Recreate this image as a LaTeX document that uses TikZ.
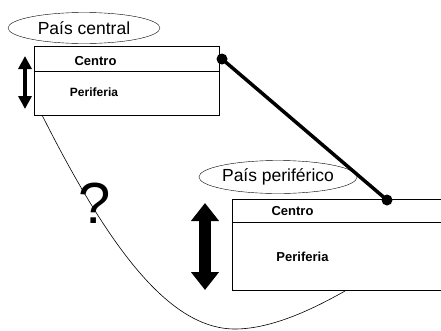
\documentclass[tikz,border=0pt]{standalone}
\usepackage{fontspec}
\setmainfont{Liberation Sans}
\usetikzlibrary{shapes.geometric,arrows.meta}

\begin{document}
\begin{tikzpicture}[x=1pt,y=-1pt,
	pais/.style={draw,ellipse,inner sep=0pt,font=\fontsize{17.5}{20}\selectfont},
	caja/.style={draw,line width=0.7pt,inner sep=0pt},
	rotulo/.style={inner sep=0pt,font=\bfseries\fontsize{#1}{14}\selectfont},
	rotulo/.default=12]
	\useasboundingbox (0,0) rectangle (441,330);

	\draw[line width=0.6pt] (42,115) .. controls (110,250) and (170,329) .. (235,329) .. controls (275,329) and (320,305) .. (345,291);
	\node[inner sep=0pt,font=\fontsize{58}{60}\selectfont] (duda) at (95,203) {?};

	\node[caja,fill=white,minimum width=185pt,minimum height=69pt] (central) at (126.5,80.5) {};
	\draw[line width=0.7pt] (central.west |- 0,71) -- (central.east |- 0,71);
	\node[rotulo=13] (centro1) at (95.5,61) {Centro};
	\node[rotulo] (periferia1) at (94,92) {Periferia};
	\node[pais,minimum width=152pt,minimum height=31pt] (paiscentral) at (84,28) {País central};

	\node[caja,fill=white,minimum width=210pt,minimum height=91pt] (periferico) at (337,244.5) {};
	\draw[line width=0.7pt] (periferico.west |- 0,222) -- (periferico.east |- 0,222);
	\node[rotulo=13] (centro2) at (292.5,211) {Centro};
	\node[rotulo=13] (periferia2) at (302.5,257) {Periferia};
	\node[pais,minimum width=147pt,minimum height=33pt] (paisperiferico) at (278,177) {País periférico};

	\draw[line width=4pt,{Triangle[width=13pt,length=13pt]}-{Triangle[width=13pt,length=13pt]}] (25,56) -- (25,109);
	\draw[line width=12pt,{Triangle[width=27pt,length=18pt]}-{Triangle[width=27pt,length=18pt]}] (205,203) -- (205,290);

	\coordinate (p1) at (222,59);
	\coordinate (p2) at (387,200);
	\draw[line width=3.5pt] (p1) -- (p2);
	\fill (p1) circle[radius=5.5pt];
	\fill (p2) circle[radius=5.5pt];
\end{tikzpicture}
\end{document}
